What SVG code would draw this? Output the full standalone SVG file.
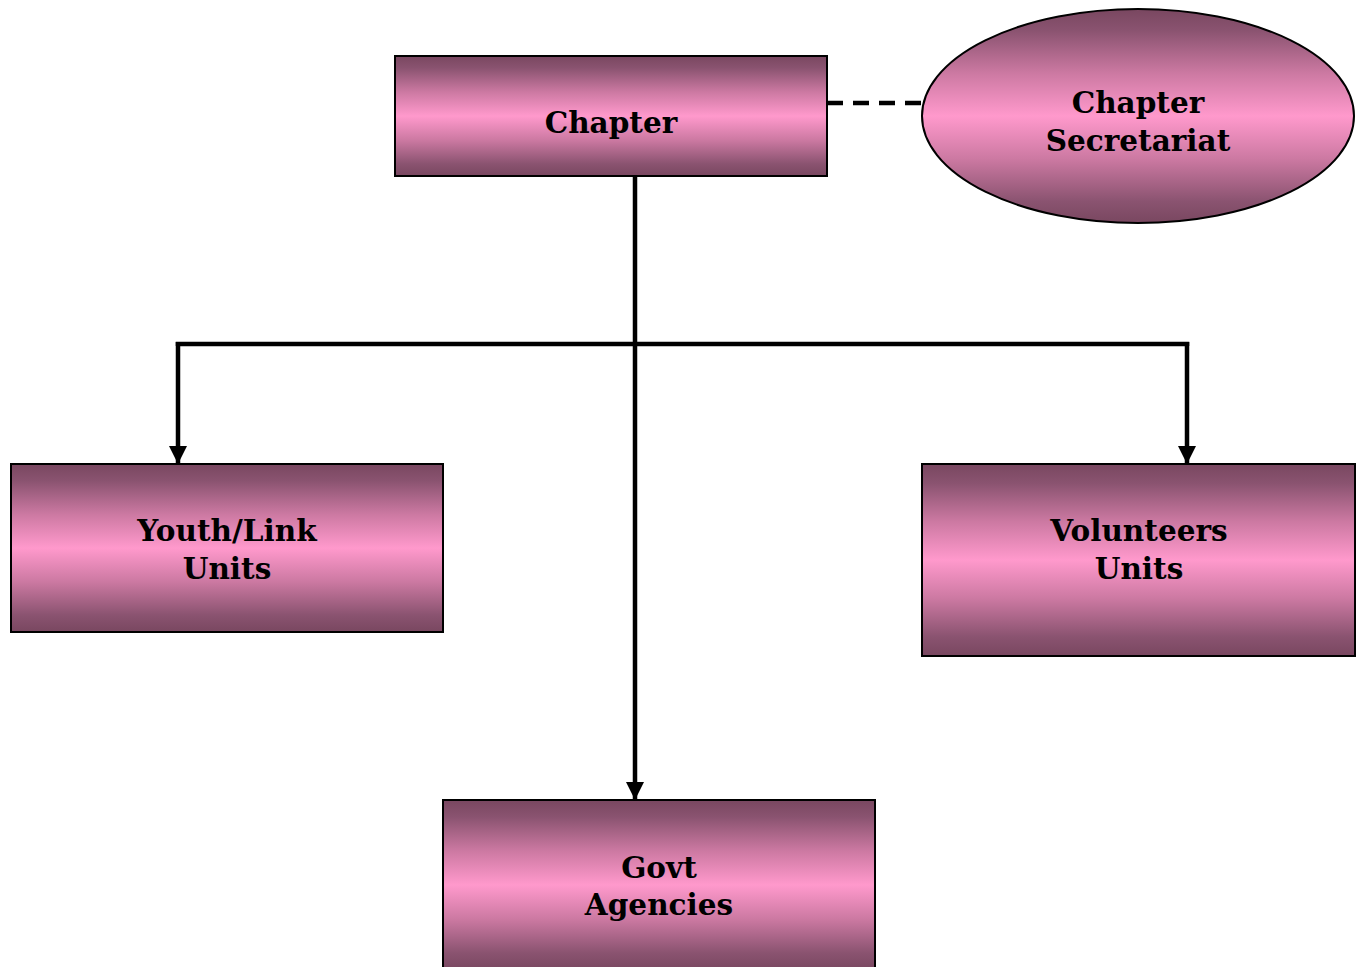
<svg xmlns="http://www.w3.org/2000/svg" width="1364" height="967" viewBox="0 0 1364 967">
<defs>
<linearGradient id="g" x1="0" y1="0" x2="0" y2="1">
<stop offset="0" stop-color="#794760"/>
<stop offset="0.1" stop-color="#8a5370"/>
<stop offset="0.3" stop-color="#cc79a2"/>
<stop offset="0.5" stop-color="#ff99cc"/>
<stop offset="0.7" stop-color="#cc79a2"/>
<stop offset="0.9" stop-color="#8a5370"/>
<stop offset="1" stop-color="#794760"/>
</linearGradient>
<marker id="arr" markerWidth="18" markerHeight="18" viewBox="0 0 18 18" refX="18" refY="9" orient="auto" markerUnits="userSpaceOnUse">
<path d="M0,0 L18,9 L0,18 Z" fill="#000"/>
</marker>
<style>
.box{fill:url(#g);stroke:#000;stroke-width:2}
.t{font-family:"DejaVu Serif","Liberation Serif",serif;font-weight:bold;font-size:29.5px;fill:#000;text-anchor:middle}
.c{fill:none;stroke:#000;stroke-width:4.5}
</style>
</defs>
<g id="connectors">
<line class="c" x1="827" y1="103" x2="922" y2="103" stroke-dasharray="16,10"/>
<line class="c" x1="635" y1="176" x2="635" y2="800" marker-end="url(#arr)"/>
<polyline class="c" points="178,346 178,344 1187,344 1187,346"/>
<line class="c" x1="178" y1="342" x2="178" y2="464" marker-end="url(#arr)"/>
<line class="c" x1="1187" y1="342" x2="1187" y2="464" marker-end="url(#arr)"/>
</g>
<g id="chapter">
<rect class="box" x="395" y="56" width="432" height="120"/>
<text class="t" x="611" y="133">Chapter</text>
</g>
<g id="secretariat">
<ellipse class="box" cx="1138" cy="116" rx="216" ry="107"/>
<text class="t" x="1138" y="113">Chapter</text>
<text class="t" x="1138" y="151">Secretariat</text>
</g>
<g id="youth">
<rect class="box" x="11" y="464" width="432" height="168"/>
<text class="t" x="227" y="541">Youth/Link</text>
<text class="t" x="227" y="579">Units</text>
</g>
<g id="volunteers">
<rect class="box" x="922" y="464" width="433" height="192"/>
<text class="t" x="1139" y="541">Volunteers</text>
<text class="t" x="1139" y="579">Units</text>
</g>
<g id="govt">
<rect class="box" x="443" y="800" width="432" height="170"/>
<text class="t" x="659" y="878">Govt</text>
<text class="t" x="659" y="915">Agencies</text>
</g>
</svg>
